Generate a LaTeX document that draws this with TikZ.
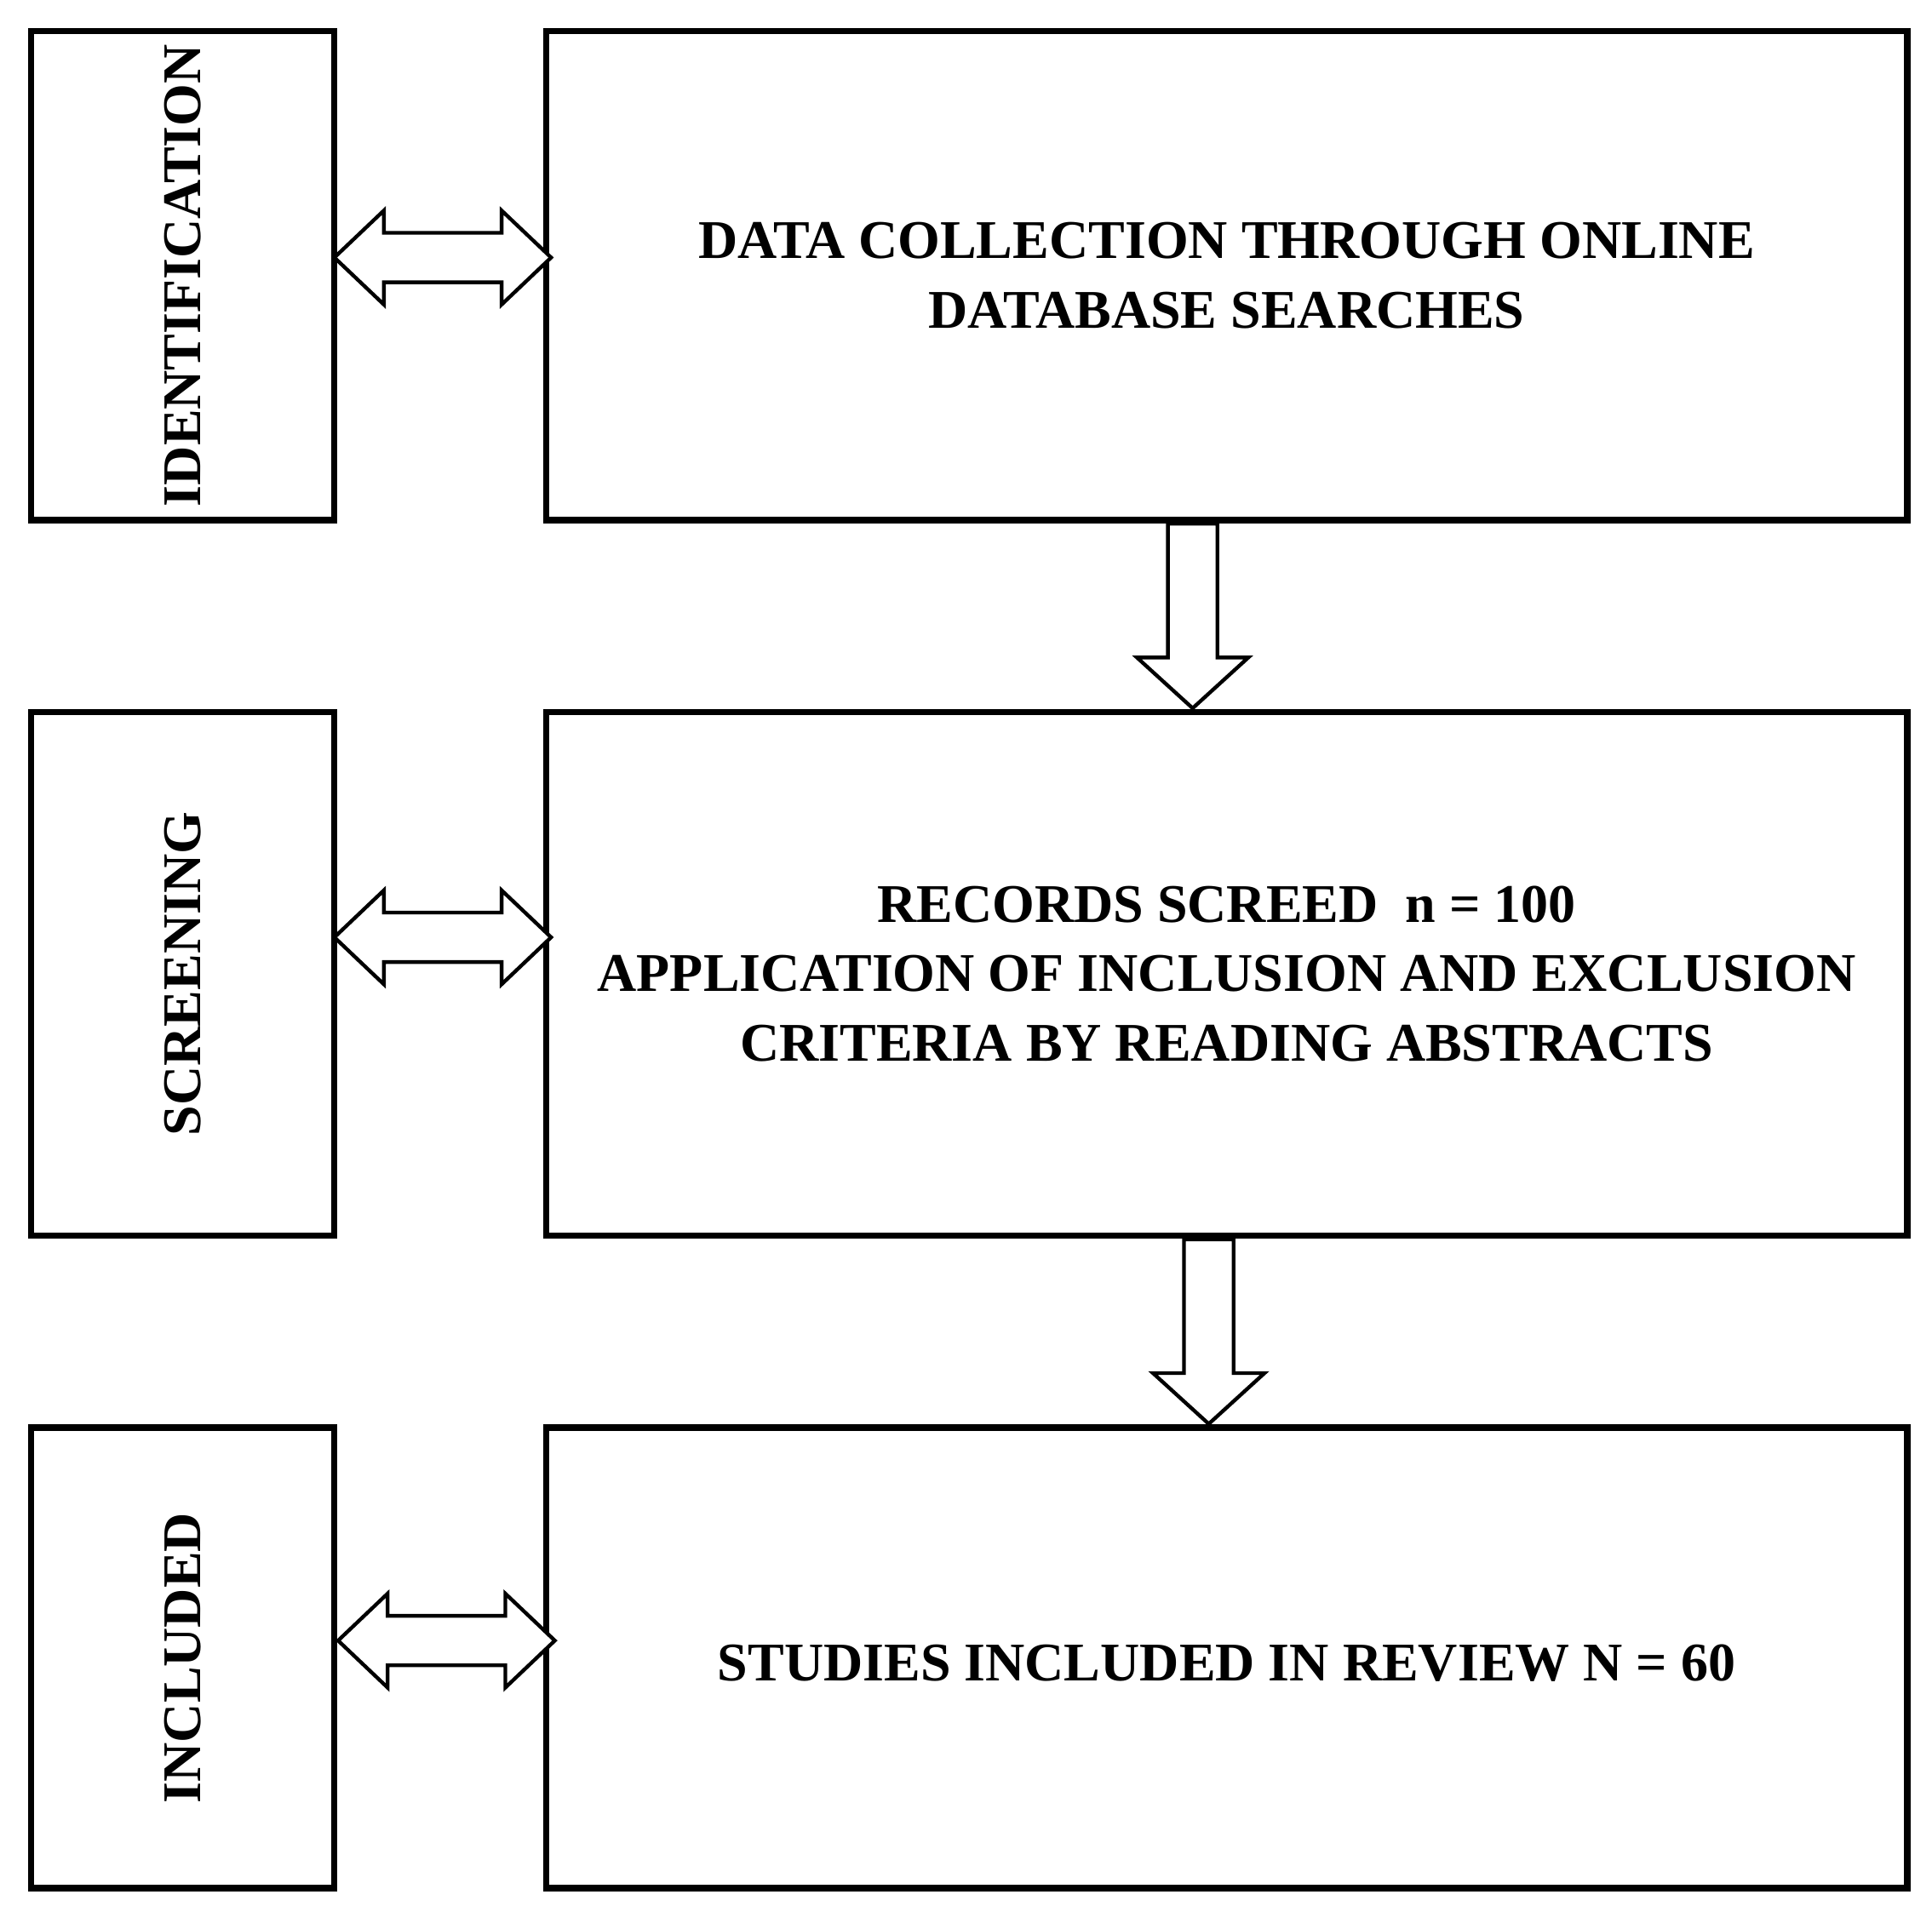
\documentclass[tikz,border=0pt]{standalone}
\usepackage{fontspec}
\setmainfont{Liberation Serif}
\begin{document}
\begin{tikzpicture}[x=1pt,y=-1pt,
  box/.style={draw,line width=5pt,inner sep=0pt},
  lab/.style={font=\fontsize{44}{56}\selectfont\bfseries,align=center},
  arr/.style={draw,line width=3pt,fill=white,line join=miter}]
\useasboundingbox (0,0) rectangle (1560,1539);
% left boxes
\node[box,minimum width=245pt,minimum height=395pt] (l1) at (147.5,222.5) {};
\node[box,minimum width=245pt,minimum height=423pt] (l2) at (147.5,786.5) {};
\node[box,minimum width=245pt,minimum height=372pt] (l3) at (147.5,1339) {};
\node[lab,rotate=90] (t1) at (l1.center) {IDENTIFICATION};
\node[lab,rotate=90] (t2) at (l2.center) {SCREENING};
\node[lab,rotate=90] (t3) at (l3.center) {INCLUDED};
% right boxes
\node[box,minimum width=1099pt,minimum height=395pt] (r1) at (990.5,222.5) {};
\node[box,minimum width=1099pt,minimum height=423pt] (r2) at (990.5,786.5) {};
\node[box,minimum width=1099pt,minimum height=372pt] (r3) at (990.5,1339) {};
\node[lab] (s1) at (r1.center) {DATA COLLECTION THROUGH ONLINE\\DATABASE SEARCHES};
\node[lab] (s2) at (r2.center) {RECORDS SCREED~~n = 100\\APPLICATION OF INCLUSION AND EXCLUSION\\CRITERIA BY READING ABSTRACTS};
\node[lab] (s3) at ([yshift=-4pt]r3.center) {STUDIES INCLUDED IN REVIEW N = 60};
% double arrows
\foreach \n/\x/\y in {1/270/208,2/270/757,3/273/1325}{
  \coordinate (h\n) at (\x,\y);
  \path[arr] (h\n) -- ++(40,-38) -- ++(0,18) -- ++(95,0) -- ++(0,-18) -- ++(40,38)
    -- ++(-40,38) -- ++(0,-18) -- ++(-95,0) -- ++(0,18) -- cycle;
}
% down arrows
\coordinate (d1) at (963,423);
\coordinate (d2) at (976,1001);
\foreach \d in {d1,d2}{
  \path[arr] (\d) ++(-20,0) -- ++(40,0) -- ++(0,108) -- ++(25,0) -- ++(-45,41)
    -- ++(-45,-41) -- ++(25,0) -- cycle;
}
\end{tikzpicture}
\end{document}
